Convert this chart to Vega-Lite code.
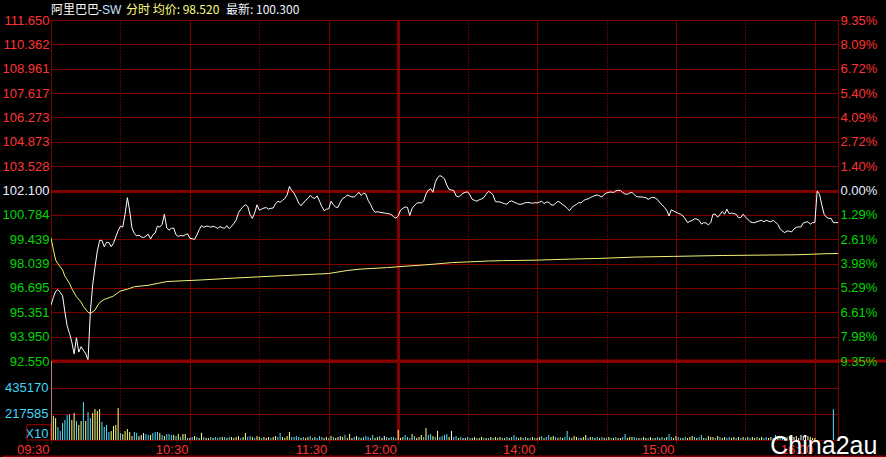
{
"$schema":"https://vega.github.io/schema/vega-lite/v6.json",
"background":"#000000",
"padding":{"left":0,"top":3,"right":0,"bottom":0},
"bounds":"flush",
"spacing":0,
"config":{"view":{"stroke":"#800000","strokeWidth":1},"font":"Liberation Sans","axis":{"labelFont":"Liberation Sans","labelFontSize":13,"domain":false,"ticks":false,"gridOpacity":1,"labelOverlap":false,"labelFlush":false}},
"datasets":{
"m":[
{"t":0,"p":95.69,"v":900000,"d":"w"},{"t":1,"p":96.1,"v":203000,"d":"y"},{"t":2,"p":96.45,"v":184000,"d":"y"},{"t":3,"p":96.55,"v":109000,"d":"c"},{"t":4,"p":96.4,"v":75000,"d":"c"},{"t":5,"p":96.2,"v":142000,"d":"c"},{"t":6,"p":95.3,"v":167000,"d":"c"},{"t":7,"p":94.5,"v":209000,"d":"c"},{"t":8,"p":94.1,"v":218000,"d":"c"},{"t":9,"p":93.6,"v":167000,"d":"y"},
{"t":10,"p":92.95,"v":226000,"d":"y"},{"t":11,"p":93.85,"v":159000,"d":"c"},{"t":12,"p":93.05,"v":126000,"d":"y"},{"t":13,"p":93.35,"v":159000,"d":"y"},{"t":14,"p":93.15,"v":318000,"d":"c"},{"t":15,"p":92.95,"v":159000,"d":"y"},{"t":16,"p":92.6,"v":234000,"d":"c"},{"t":17,"p":95.3,"v":184000,"d":"c"},{"t":18,"p":96.8,"v":226000,"d":"y"},{"t":19,"p":97.8,"v":259000,"d":"y"},
{"t":20,"p":98.7,"v":243000,"d":"y"},{"t":21,"p":99.3,"v":259000,"d":"y"},{"t":22,"p":99.31,"v":151000,"d":"c"},{"t":23,"p":98.95,"v":109000,"d":"c"},{"t":24,"p":99.2,"v":126000,"d":"c"},{"t":25,"p":99.18,"v":67000,"d":"c"},{"t":26,"p":98.95,"v":75000,"d":"y"},{"t":27,"p":99.15,"v":117000,"d":"y"},{"t":28,"p":99.5,"v":126000,"d":"y"},{"t":29,"p":99.85,"v":268000,"d":"y"},
{"t":30,"p":100.1,"v":59000,"d":"c"},{"t":31,"p":100.05,"v":50000,"d":"y"},{"t":32,"p":100.77,"v":75000,"d":"y"},{"t":33,"p":101.7,"v":92000,"d":"y"},{"t":34,"p":100.95,"v":67000,"d":"y"},{"t":35,"p":100.0,"v":33000,"d":"y"},{"t":36,"p":99.7,"v":67000,"d":"c"},{"t":37,"p":99.55,"v":59000,"d":"c"},{"t":38,"p":99.6,"v":33000,"d":"w"},{"t":39,"p":99.5,"v":42000,"d":"y"},
{"t":40,"p":99.46,"v":59000,"d":"w"},{"t":41,"p":99.55,"v":50000,"d":"c"},{"t":42,"p":99.65,"v":42000,"d":"c"},{"t":43,"p":99.38,"v":42000,"d":"y"},{"t":44,"p":99.62,"v":59000,"d":"c"},{"t":45,"p":99.72,"v":67000,"d":"c"},{"t":46,"p":100.1,"v":67000,"d":"c"},{"t":47,"p":100.05,"v":59000,"d":"y"},{"t":48,"p":100.2,"v":42000,"d":"c"},{"t":49,"p":100.78,"v":33000,"d":"y"},
{"t":50,"p":100.0,"v":50000,"d":"c"},{"t":51,"p":99.88,"v":50000,"d":"c"},{"t":52,"p":99.98,"v":42000,"d":"c"},{"t":53,"p":100.0,"v":42000,"d":"y"},{"t":54,"p":99.62,"v":33000,"d":"c"},{"t":55,"p":99.53,"v":50000,"d":"y"},{"t":56,"p":99.58,"v":25000,"d":"c"},{"t":57,"p":99.55,"v":50000,"d":"y"},{"t":58,"p":99.62,"v":50000,"d":"y"},{"t":59,"p":99.68,"v":17000,"d":"c"},
{"t":60,"p":99.42,"v":17000,"d":"w"},{"t":61,"p":99.4,"v":25000,"d":"c"},{"t":62,"p":99.36,"v":33000,"d":"y"},{"t":63,"p":99.6,"v":25000,"d":"c"},{"t":64,"p":99.9,"v":17000,"d":"y"},{"t":65,"p":100.13,"v":59000,"d":"y"},{"t":66,"p":100.04,"v":25000,"d":"c"},{"t":67,"p":100.1,"v":17000,"d":"y"},{"t":68,"p":100.1,"v":17000,"d":"y"},{"t":69,"p":100.04,"v":25000,"d":"c"},
{"t":70,"p":100.1,"v":17000,"d":"y"},{"t":71,"p":100.05,"v":25000,"d":"c"},{"t":72,"p":99.98,"v":17000,"d":"c"},{"t":73,"p":100.08,"v":25000,"d":"c"},{"t":74,"p":100.02,"v":25000,"d":"y"},{"t":75,"p":99.98,"v":25000,"d":"c"},{"t":76,"p":100.13,"v":17000,"d":"y"},{"t":77,"p":99.96,"v":25000,"d":"c"},{"t":78,"p":100.1,"v":25000,"d":"y"},{"t":79,"p":100.25,"v":17000,"d":"y"},
{"t":80,"p":100.45,"v":25000,"d":"y"},{"t":81,"p":100.85,"v":33000,"d":"y"},{"t":82,"p":101.05,"v":17000,"d":"c"},{"t":83,"p":101.2,"v":25000,"d":"y"},{"t":84,"p":101.3,"v":59000,"d":"y"},{"t":85,"p":101.2,"v":25000,"d":"c"},{"t":86,"p":100.75,"v":33000,"d":"c"},{"t":87,"p":100.54,"v":25000,"d":"y"},{"t":88,"p":100.85,"v":17000,"d":"c"},{"t":89,"p":101.3,"v":33000,"d":"y"},
{"t":90,"p":101.0,"v":25000,"d":"y"},{"t":91,"p":101.06,"v":17000,"d":"c"},{"t":92,"p":101.12,"v":25000,"d":"y"},{"t":93,"p":101.14,"v":17000,"d":"w"},{"t":94,"p":101.06,"v":25000,"d":"y"},{"t":95,"p":101.1,"v":17000,"d":"c"},{"t":96,"p":101.12,"v":25000,"d":"y"},{"t":97,"p":101.35,"v":33000,"d":"y"},{"t":98,"p":101.5,"v":25000,"d":"c"},{"t":99,"p":101.44,"v":59000,"d":"c"},
{"t":100,"p":101.55,"v":25000,"d":"y"},{"t":101,"p":101.65,"v":17000,"d":"y"},{"t":102,"p":101.85,"v":33000,"d":"y"},{"t":103,"p":102.33,"v":67000,"d":"y"},{"t":104,"p":102.1,"v":25000,"d":"c"},{"t":105,"p":101.95,"v":25000,"d":"c"},{"t":106,"p":101.7,"v":33000,"d":"c"},{"t":107,"p":101.4,"v":25000,"d":"c"},{"t":108,"p":101.25,"v":17000,"d":"y"},{"t":109,"p":101.4,"v":25000,"d":"c"},
{"t":110,"p":101.55,"v":17000,"d":"y"},{"t":111,"p":101.65,"v":25000,"d":"y"},{"t":112,"p":101.82,"v":33000,"d":"c"},{"t":113,"p":101.7,"v":17000,"d":"c"},{"t":114,"p":101.65,"v":25000,"d":"y"},{"t":115,"p":101.8,"v":17000,"d":"c"},{"t":116,"p":101.5,"v":33000,"d":"c"},{"t":117,"p":101.2,"v":25000,"d":"c"},{"t":118,"p":100.97,"v":17000,"d":"y"},{"t":119,"p":101.05,"v":25000,"d":"y"},
{"t":120,"p":101.08,"v":17000,"d":"c"},{"t":121,"p":101.5,"v":33000,"d":"y"},{"t":122,"p":101.3,"v":25000,"d":"c"},{"t":123,"p":101.16,"v":17000,"d":"y"},{"t":124,"p":101.16,"v":25000,"d":"w"},{"t":125,"p":101.45,"v":33000,"d":"y"},{"t":126,"p":101.65,"v":25000,"d":"y"},{"t":127,"p":101.72,"v":42000,"d":"c"},{"t":128,"p":101.85,"v":17000,"d":"y"},{"t":129,"p":101.8,"v":50000,"d":"y"},
{"t":130,"p":101.74,"v":17000,"d":"w"},{"t":131,"p":101.74,"v":25000,"d":"c"},{"t":132,"p":101.85,"v":33000,"d":"y"},{"t":133,"p":102.0,"v":25000,"d":"c"},{"t":134,"p":101.82,"v":17000,"d":"y"},{"t":135,"p":101.95,"v":25000,"d":"c"},{"t":136,"p":101.9,"v":33000,"d":"c"},{"t":137,"p":101.55,"v":25000,"d":"c"},{"t":138,"p":101.33,"v":17000,"d":"c"},{"t":139,"p":101.05,"v":42000,"d":"c"},
{"t":140,"p":100.88,"v":17000,"d":"y"},{"t":141,"p":100.91,"v":25000,"d":"y"},{"t":142,"p":100.88,"v":33000,"d":"c"},{"t":143,"p":100.86,"v":17000,"d":"y"},{"t":144,"p":100.84,"v":33000,"d":"w"},{"t":145,"p":100.82,"v":25000,"d":"c"},{"t":146,"p":100.8,"v":17000,"d":"y"},{"t":147,"p":100.75,"v":25000,"d":"c"},{"t":148,"p":100.63,"v":25000,"d":"c"},{"t":149,"p":100.55,"v":17000,"d":"c"},
{"t":150,"p":100.67,"v":84000,"d":"y"},{"t":151,"p":101.0,"v":17000,"d":"w"},{"t":152,"p":101.1,"v":25000,"d":"y"},{"t":153,"p":101.18,"v":42000,"d":"c"},{"t":154,"p":101.15,"v":25000,"d":"c"},{"t":155,"p":100.7,"v":17000,"d":"c"},{"t":156,"p":101.1,"v":50000,"d":"y"},{"t":157,"p":101.25,"v":33000,"d":"c"},{"t":158,"p":101.38,"v":17000,"d":"w"},{"t":159,"p":101.42,"v":25000,"d":"y"},
{"t":160,"p":101.4,"v":42000,"d":"y"},{"t":161,"p":101.5,"v":25000,"d":"c"},{"t":162,"p":101.9,"v":100000,"d":"y"},{"t":163,"p":102.12,"v":42000,"d":"c"},{"t":164,"p":102.2,"v":50000,"d":"c"},{"t":165,"p":102.0,"v":33000,"d":"y"},{"t":166,"p":102.55,"v":25000,"d":"c"},{"t":167,"p":102.82,"v":76000,"d":"y"},{"t":168,"p":102.93,"v":25000,"d":"c"},{"t":169,"p":102.88,"v":33000,"d":"c"},
{"t":170,"p":102.75,"v":42000,"d":"c"},{"t":171,"p":102.4,"v":50000,"d":"c"},{"t":172,"p":102.15,"v":25000,"d":"y"},{"t":173,"p":102.13,"v":76000,"d":"w"},{"t":174,"p":102.1,"v":25000,"d":"c"},{"t":175,"p":101.8,"v":33000,"d":"c"},{"t":176,"p":101.75,"v":17000,"d":"y"},{"t":177,"p":101.82,"v":25000,"d":"c"},{"t":178,"p":101.95,"v":17000,"d":"w"},{"t":179,"p":102.0,"v":17000,"d":"y"},
{"t":180,"p":102.02,"v":25000,"d":"c"},{"t":181,"p":101.85,"v":17000,"d":"c"},{"t":182,"p":101.6,"v":17000,"d":"y"},{"t":183,"p":101.55,"v":25000,"d":"y"},{"t":184,"p":101.5,"v":17000,"d":"c"},{"t":185,"p":101.58,"v":17000,"d":"y"},{"t":186,"p":101.63,"v":25000,"d":"y"},{"t":187,"p":101.7,"v":17000,"d":"c"},{"t":188,"p":101.9,"v":17000,"d":"y"},{"t":189,"p":102.05,"v":17000,"d":"c"},
{"t":190,"p":101.98,"v":25000,"d":"y"},{"t":191,"p":101.85,"v":17000,"d":"c"},{"t":192,"p":101.48,"v":25000,"d":"y"},{"t":193,"p":101.46,"v":17000,"d":"y"},{"t":194,"p":101.46,"v":25000,"d":"y"},{"t":195,"p":101.4,"v":17000,"d":"c"},{"t":196,"p":101.36,"v":17000,"d":"y"},{"t":197,"p":101.33,"v":25000,"d":"c"},{"t":198,"p":101.48,"v":17000,"d":"y"},{"t":199,"p":101.52,"v":25000,"d":"c"},
{"t":200,"p":101.45,"v":42000,"d":"c"},{"t":201,"p":101.4,"v":25000,"d":"c"},{"t":202,"p":101.33,"v":17000,"d":"y"},{"t":203,"p":101.33,"v":25000,"d":"y"},{"t":204,"p":101.36,"v":17000,"d":"c"},{"t":205,"p":101.42,"v":25000,"d":"c"},{"t":206,"p":101.42,"v":17000,"d":"y"},{"t":207,"p":101.42,"v":17000,"d":"c"},{"t":208,"p":101.38,"v":25000,"d":"y"},{"t":209,"p":101.42,"v":17000,"d":"c"},
{"t":210,"p":101.4,"v":17000,"d":"y"},{"t":211,"p":101.45,"v":25000,"d":"y"},{"t":212,"p":101.5,"v":33000,"d":"c"},{"t":213,"p":101.36,"v":17000,"d":"y"},{"t":214,"p":101.45,"v":25000,"d":"c"},{"t":215,"p":101.45,"v":42000,"d":"c"},{"t":216,"p":101.3,"v":25000,"d":"y"},{"t":217,"p":101.28,"v":33000,"d":"y"},{"t":218,"p":101.38,"v":25000,"d":"c"},{"t":219,"p":101.5,"v":17000,"d":"y"},
{"t":220,"p":101.42,"v":25000,"d":"c"},{"t":221,"p":101.32,"v":17000,"d":"y"},{"t":222,"p":101.23,"v":25000,"d":"c"},{"t":223,"p":101.1,"v":76000,"d":"c"},{"t":224,"p":100.97,"v":25000,"d":"c"},{"t":225,"p":101.15,"v":17000,"d":"y"},{"t":226,"p":101.25,"v":33000,"d":"y"},{"t":227,"p":101.32,"v":25000,"d":"y"},{"t":228,"p":101.42,"v":17000,"d":"c"},{"t":229,"p":101.4,"v":17000,"d":"w"},
{"t":230,"p":101.53,"v":25000,"d":"y"},{"t":231,"p":101.6,"v":42000,"d":"y"},{"t":232,"p":101.63,"v":17000,"d":"c"},{"t":233,"p":101.7,"v":25000,"d":"y"},{"t":234,"p":101.77,"v":25000,"d":"c"},{"t":235,"p":101.82,"v":17000,"d":"y"},{"t":236,"p":101.85,"v":25000,"d":"c"},{"t":237,"p":101.8,"v":17000,"d":"y"},{"t":238,"p":101.74,"v":25000,"d":"c"},{"t":239,"p":101.88,"v":17000,"d":"y"},
{"t":240,"p":101.96,"v":17000,"d":"c"},{"t":241,"p":102.0,"v":25000,"d":"y"},{"t":242,"p":102.02,"v":17000,"d":"c"},{"t":243,"p":101.98,"v":17000,"d":"y"},{"t":244,"p":102.08,"v":25000,"d":"c"},{"t":245,"p":102.11,"v":17000,"d":"y"},{"t":246,"p":102.1,"v":17000,"d":"y"},{"t":247,"p":101.98,"v":25000,"d":"c"},{"t":248,"p":101.9,"v":50000,"d":"c"},{"t":249,"p":101.89,"v":17000,"d":"y"},
{"t":250,"p":101.96,"v":25000,"d":"y"},{"t":251,"p":102.0,"v":25000,"d":"y"},{"t":252,"p":101.86,"v":25000,"d":"c"},{"t":253,"p":101.76,"v":17000,"d":"c"},{"t":254,"p":101.74,"v":17000,"d":"y"},{"t":255,"p":101.74,"v":17000,"d":"c"},{"t":256,"p":101.72,"v":25000,"d":"y"},{"t":257,"p":101.7,"v":17000,"d":"y"},{"t":258,"p":101.6,"v":17000,"d":"c"},{"t":259,"p":101.68,"v":25000,"d":"y"},
{"t":260,"p":101.72,"v":17000,"d":"c"},{"t":261,"p":101.68,"v":17000,"d":"y"},{"t":262,"p":101.6,"v":25000,"d":"c"},{"t":263,"p":101.42,"v":17000,"d":"y"},{"t":264,"p":101.3,"v":25000,"d":"c"},{"t":265,"p":101.15,"v":17000,"d":"c"},{"t":266,"p":101.0,"v":25000,"d":"y"},{"t":267,"p":100.67,"v":50000,"d":"c"},{"t":268,"p":101.02,"v":25000,"d":"c"},{"t":269,"p":100.95,"v":17000,"d":"y"},
{"t":270,"p":100.88,"v":33000,"d":"y"},{"t":271,"p":100.82,"v":25000,"d":"c"},{"t":272,"p":100.77,"v":17000,"d":"c"},{"t":273,"p":100.68,"v":17000,"d":"y"},{"t":274,"p":100.5,"v":25000,"d":"c"},{"t":275,"p":100.3,"v":17000,"d":"y"},{"t":276,"p":100.37,"v":25000,"d":"y"},{"t":277,"p":100.42,"v":33000,"d":"y"},{"t":278,"p":100.52,"v":25000,"d":"c"},{"t":279,"p":100.5,"v":17000,"d":"y"},
{"t":280,"p":100.43,"v":25000,"d":"c"},{"t":281,"p":100.22,"v":42000,"d":"c"},{"t":282,"p":100.3,"v":17000,"d":"y"},{"t":283,"p":100.28,"v":17000,"d":"c"},{"t":284,"p":100.17,"v":33000,"d":"y"},{"t":285,"p":100.3,"v":25000,"d":"y"},{"t":286,"p":100.77,"v":25000,"d":"y"},{"t":287,"p":100.77,"v":17000,"d":"c"},{"t":288,"p":100.6,"v":33000,"d":"y"},{"t":289,"p":100.75,"v":25000,"d":"c"},
{"t":290,"p":100.92,"v":17000,"d":"y"},{"t":291,"p":100.77,"v":25000,"d":"y"},{"t":292,"p":101.05,"v":17000,"d":"c"},{"t":293,"p":100.8,"v":25000,"d":"c"},{"t":294,"p":100.84,"v":17000,"d":"y"},{"t":295,"p":100.8,"v":25000,"d":"y"},{"t":296,"p":100.77,"v":17000,"d":"c"},{"t":297,"p":100.58,"v":25000,"d":"y"},{"t":298,"p":100.58,"v":17000,"d":"c"},{"t":299,"p":100.77,"v":25000,"d":"y"},
{"t":300,"p":100.62,"v":17000,"d":"c"},{"t":301,"p":100.49,"v":25000,"d":"y"},{"t":302,"p":100.35,"v":17000,"d":"c"},{"t":303,"p":100.3,"v":25000,"d":"y"},{"t":304,"p":100.3,"v":17000,"d":"y"},{"t":305,"p":100.35,"v":25000,"d":"c"},{"t":306,"p":100.4,"v":17000,"d":"y"},{"t":307,"p":100.43,"v":25000,"d":"y"},{"t":308,"p":100.35,"v":17000,"d":"c"},{"t":309,"p":100.43,"v":25000,"d":"c"},
{"t":310,"p":100.38,"v":17000,"d":"y"},{"t":311,"p":100.35,"v":25000,"d":"y"},{"t":312,"p":100.43,"v":17000,"d":"c"},{"t":313,"p":100.33,"v":42000,"d":"c"},{"t":314,"p":100.2,"v":33000,"d":"y"},{"t":315,"p":99.95,"v":17000,"d":"c"},{"t":316,"p":99.83,"v":25000,"d":"c"},{"t":317,"p":99.74,"v":17000,"d":"y"},{"t":318,"p":99.83,"v":25000,"d":"c"},{"t":319,"p":99.82,"v":33000,"d":"y"},
{"t":320,"p":99.78,"v":25000,"d":"c"},{"t":321,"p":99.95,"v":25000,"d":"w"},{"t":322,"p":100.04,"v":33000,"d":"w"},{"t":323,"p":100.06,"v":17000,"d":"y"},{"t":324,"p":100.06,"v":42000,"d":"w"},{"t":325,"p":100.28,"v":33000,"d":"w"},{"t":326,"p":100.33,"v":42000,"d":"w"},{"t":327,"p":100.35,"v":33000,"d":"y"},{"t":328,"p":100.21,"v":25000,"d":"y"},{"t":329,"p":100.3,"v":17000,"d":"y"},
{"t":330,"p":100.3,"v":17000,"d":"y"},{"t":331,"p":102.07,"v":0,"d":"c"},{"t":332,"p":101.89,"v":0,"d":"c"},{"t":333,"p":101.3,"v":0,"d":"c"},{"t":334,"p":100.77,"v":0,"d":"c"},{"t":335,"p":100.6,"v":0,"d":"c"},{"t":336,"p":100.54,"v":0,"d":"c"},{"t":337,"p":100.54,"v":0,"d":"c"},{"t":338,"p":100.3,"v":259000,"d":"c"},{"t":339,"p":100.3,"v":0,"d":"c"},
{"t":340,"p":100.3,"v":0,"d":"c"}
],
"avg":[{"t":0,"a":99.45},{"t":1,"a":98.8},{"t":2,"a":98.2},{"t":3,"a":98.0},{"t":5,"a":97.65},{"t":6,"a":97.3},{"t":8,"a":96.9},{"t":9,"a":96.6},{"t":11,"a":96.15},{"t":13,"a":95.85},{"t":14,"a":95.6},{"t":16,"a":95.28},{"t":17,"a":95.22},{"t":18,"a":95.3},{"t":19,"a":95.4},{"t":20,"a":95.63},{"t":21,"a":95.82},{"t":23,"a":96.0},{"t":25,"a":96.09},{"t":27,"a":96.19},{"t":29,"a":96.38},{"t":30,"a":96.47},{"t":33,"a":96.57},{"t":36,"a":96.71},{"t":42,"a":96.79},{"t":50,"a":97.0},{"t":65,"a":97.09},{"t":80,"a":97.2},{"t":100,"a":97.33},{"t":120,"a":97.45},{"t":128,"a":97.62},{"t":134,"a":97.7},{"t":145,"a":97.78},{"t":150,"a":97.83},{"t":159,"a":97.91},{"t":165,"a":97.97},{"t":173,"a":98.06},{"t":180,"a":98.1},{"t":189,"a":98.15},{"t":195,"a":98.17},{"t":210,"a":98.2},{"t":225,"a":98.26},{"t":238,"a":98.3},{"t":252,"a":98.37},{"t":269,"a":98.41},{"t":290,"a":98.46},{"t":322,"a":98.5},{"t":335,"a":98.56},{"t":340,"a":98.57}],
"one":[{}]
},
"vconcat":[
{
"width":787,"height":341,
"layer":[
{"data":{"name":"m"},"mark":{"type":"line","color":"#ffffff","strokeWidth":1,"clip":true},
"encoding":{
"x":{"field":"t","type":"quantitative","scale":{"domain":[0,340],"nice":false,"zero":false},
"axis":{"title":null,"values":[0,30,60,90,120,150,180,210,240,270,300,330,340],"labels":false,"grid":true,"labelOverlap":false,
"gridColor":{"condition":{"test":"indexof([30,90,180,240,300],datum.value)>=0","value":"#c00000"},"value":"#800000"},
"gridDash":{"condition":{"test":"indexof([30,90,180,240,300],datum.value)>=0","value":[1,2]},"value":[]},
"gridWidth":{"condition":{"test":"datum.value==150","value":3},"value":1}}},
"y":{"field":"p","type":"quantitative","scale":{"domain":[92.55,111.65],"nice":false,"zero":false},
"axis":{"title":null,"orient":"left","labelOverlap":false,"labelFlush":false,"values":[92.55,93.9142857,95.2785714,96.6428571,98.0071429,99.3714286,100.7357143,102.1,103.4642857,104.8285714,106.1928571,107.5571429,108.9214286,110.2857143,111.65],
"labelExpr":"['92.550','93.950','95.351','96.695','98.039','99.439','100.784','102.100','103.528','104.873','106.273','107.617','108.961','110.362','111.650'][round((datum.value-92.55)/1.3642857)]",
"labelColor":{"condition":[{"test":"datum.value>102.2","value":"#ff3333"},{"test":"datum.value<102","value":"#00d800"}],"value":"#e8f0ff"},
"labelPadding":2,"grid":true,"gridColor":"#800000",
"gridWidth":{"condition":{"test":"abs(datum.value-102.1)<0.01||datum.value<92.6","value":3},"value":1}}}
}},
{"data":{"name":"avg"},"mark":{"type":"line","color":"#f2f27a","strokeWidth":1,"clip":true},
"encoding":{
"x":{"field":"t","type":"quantitative"},
"y":{"field":"a","type":"quantitative","scale":{"domain":[92.55,111.65],"nice":false,"zero":false},
"axis":{"title":null,"orient":"right","grid":false,"zindex":1,"labelOverlap":false,"labelFlush":false,"values":[92.55,93.9142857,95.2785714,96.6428571,98.0071429,99.3714286,100.7357143,102.1,103.4642857,104.8285714,106.1928571,107.5571429,108.9214286,110.2857143,111.65],
"labelExpr":"['9.35%','7.98%','6.61%','5.29%','3.98%','2.61%','1.29%','0.00%','1.40%','2.72%','4.09%','5.40%','6.72%','8.09%','9.35%'][round((datum.value-92.55)/1.3642857)]",
"labelColor":{"condition":[{"test":"datum.value>102.2","value":"#ff3333"},{"test":"datum.value<102","value":"#00d800"}],"value":"#e8f0ff"},
"labelPadding":2}}
}},
{"layer":[
{"data":{"name":"one"},"mark":{"type":"rule","color":"#8c0000","strokeWidth":3},"encoding":{"x":{"datum":0},"x2":{"datum":361.8},"y":{"datum":92.55,"scale":{"domain":[92.55,111.65],"nice":false,"zero":false},"axis":null}}},
{"data":{"name":"one"},"mark":{"type":"text","text":"阿里巴巴","align":"left","baseline":"middle","fontSize":12,"color":"#ffffff","font":"Noto Sans CJK SC"},"encoding":{"x":{"datum":0},"y":{"datum":112.21,"axis":null}}},
{"data":{"name":"one"},"mark":{"type":"text","text":"-SW","align":"left","baseline":"middle","fontSize":12,"color":"#c8e0ff","font":"Liberation Sans"},"encoding":{"x":{"datum":20.3},"y":{"datum":112.21,"axis":null}}},
{"data":{"name":"one"},"mark":{"type":"text","text":"分时 均价: 98.520","align":"left","baseline":"middle","fontSize":12,"color":"#ffff80","font":"Noto Sans CJK SC"},"encoding":{"x":{"datum":32.4},"y":{"datum":112.21,"axis":null}}},
{"data":{"name":"one"},"mark":{"type":"text","text":"最新: 100.300","align":"left","baseline":"middle","fontSize":12,"color":"#f0f4ff","font":"Noto Sans CJK SC"},"encoding":{"x":{"datum":75.6},"y":{"datum":112.21,"axis":null}}}
]}
],
"resolve":{"scale":{"y":"independent"},"axis":{"y":"independent"}}
},
{
"width":787,"height":79,
"layer":[
{"data":{"name":"m"},"mark":{"type":"rule","strokeWidth":1,"clip":true},
"encoding":{
"x":{"field":"t","type":"quantitative","scale":{"domain":[0,340],"nice":false,"zero":false},
"axis":{"title":null,"values":[0,30,60,90,120,150,180,210,240,270,300,330,340],"labelOverlap":false,"labelFlush":false,
"labelExpr":"datum.value==0?'09:30':datum.value==60?'10:30':datum.value==120?'11:30':datum.value==150?'12:00':datum.value==210?'14:00':datum.value==270?'15:00':datum.value==330?'16:00':''",
"labelAlign":"right","labelColor":"#ff3030","labelPadding":0,"labelOffset":-2,"ticks":true,"tickSize":3,
"tickColor":{"condition":{"test":"indexof([0,60,120,150,210,270,330],datum.value)>=0","value":"#a00000"},"value":"transparent"},
"grid":true,
"gridColor":{"condition":{"test":"indexof([30,90,180,240,300],datum.value)>=0","value":"#c00000"},"value":"#800000"},
"gridDash":{"condition":{"test":"indexof([30,90,180,240,300],datum.value)>=0","value":[1,2]},"value":[]},
"gridWidth":{"condition":{"test":"datum.value==150","value":3},"value":1}}},
"y":{"field":"v","type":"quantitative","scale":{"domain":[0,661105],"nice":false,"zero":false},
"axis":{"title":null,"values":[0,217585,435170],"labelOverlap":false,"labelFlush":false,"labelExpr":"datum.value==0?'X10':''+datum.value","labelColor":"#40d8f8","labelPadding":3,
"labelOffset":{"condition":{"test":"datum.value==0","value":-7},"value":0},
"grid":true,"gridColor":{"condition":{"test":"datum.value==0","value":"transparent"},"value":"#800000"}}},
"y2":{"datum":0},
"color":{"field":"d","type":"nominal","scale":{"domain":["y","c","w"],"range":["#ffff80","#50e0ff","#ffffff"]},"legend":null}
}},
{"layer":[
{"data":{"name":"one"},"mark":{"type":"rule","color":"#8c0000","strokeWidth":3},"encoding":{"x":{"datum":-20.95},"x2":{"datum":361.8},"y":{"datum":-142000,"scale":{"domain":[0,661105],"nice":false,"zero":false},"axis":null}}},
{"data":{"name":"one"},"mark":{"type":"rect","fill":null,"stroke":"#a00000","strokeWidth":1},"encoding":{"x":{"datum":-10.4},"x2":{"datum":-0.2},"y":{"datum":0,"axis":null},"y2":{"datum":128000}}},
{"data":{"name":"one"},"mark":{"type":"text","text":"China2au","align":"right","baseline":"alphabetic","fontSize":25,"color":"#ffffff","font":"Liberation Sans"},"encoding":{"x":{"datum":357},"y":{"datum":-117000,"axis":null}}}
]}
],
"resolve":{"scale":{"y":"independent"},"axis":{"y":"independent"}}
}
]
}
